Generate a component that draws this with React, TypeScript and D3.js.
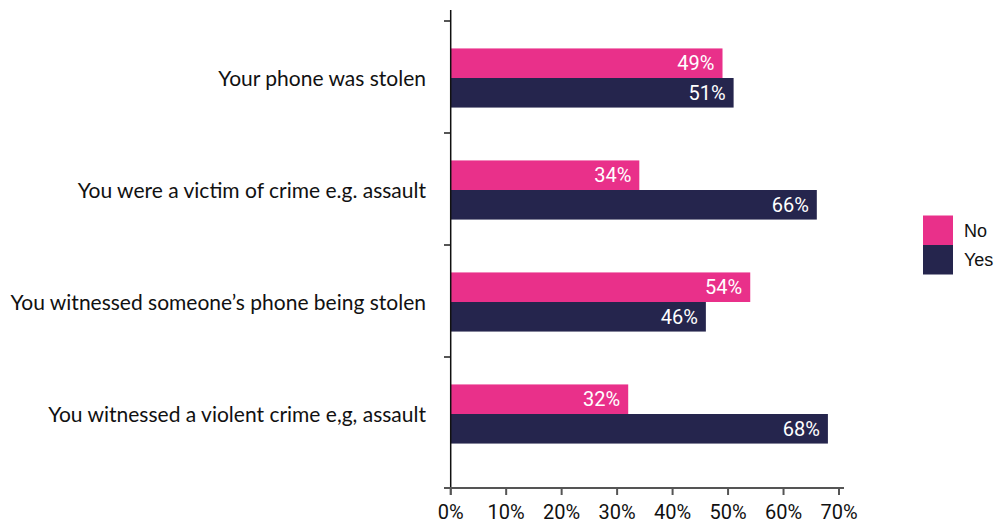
import React from "react";
import * as d3 from "d3";

const categories = [
  "Your phone was stolen",
  "You were a victim of crime e.g. assault",
  "You witnessed someone\u2019s phone being stolen",
  "You witnessed a violent crime e,g, assault",
];
const seriesNames = ["No", "Yes"];
const noValues = [49, 34, 54, 32];
const yesValues = [51, 66, 46, 68];
const xTicks = [0, 10, 20, 30, 40, 50, 60, 70];
const colors = ["#E9308A", "#25254D"];

const W = 995;
const H = 524;

export default function App() {
  const x = d3.scaleLinear().domain([0, 70]).range([450.7, 839]);
  const y = d3.scaleBand<string>().domain(categories).range([21, 469]);
  const barH = y.step() * 0.264;
  const series = [noValues, yesValues];
  const axisY = 488;
  const tickFont = "Roboto, 'Liberation Sans', sans-serif";
  const labelFont = "Lato, 'Noto Sans', sans-serif";
  const legendY = (y.range()[0] + y.range()[1]) / 2;

  return (
    <svg width={W} height={H} style={{ position: "absolute", left: 0, top: 0, background: "#fff" }}>
      {categories.map((c, i) => {
        const cy = (y(c) as number) + y.bandwidth() / 2 + 1;
        return (
          <g key={c}>
            {series.map((vals, s) => {
              const top = cy - barH + s * barH;
              return (
                <g key={s}>
                  <rect x={x(0)} y={top} width={x(vals[i]) - x(0)} height={barH} fill={colors[s]} />
                  <text
                    x={x(vals[i]) - 8}
                    y={top + barH / 2}
                    dy="0.36em"
                    textAnchor="end"
                    fill="#fff"
                    fontFamily={tickFont}
                    fontSize={20}
                  >
                    {vals[i]}%
                  </text>
                </g>
              );
            })}
            <text
              x={426}
              y={cy}
              dy="0.36em"
              textAnchor="end"
              fill="#111"
              fontFamily={labelFont}
              fontSize={21}
            >
              {c}
            </text>
          </g>
        );
      })}
      {categories.map((c) => (
        <line key={c} x1={444} x2={451} y1={y(c) as number} y2={y(c) as number} stroke="#555" strokeWidth={2} />
      ))}
      <line x1={450.7} x2={450.7} y1={10} y2={495} stroke="#111" strokeWidth={1.5} />
      <line x1={444} x2={844} y1={axisY} y2={axisY} stroke="#555" strokeWidth={2} />
      {xTicks.map((t) => (
        <g key={t}>
          <line x1={x(t)} x2={x(t)} y1={axisY} y2={axisY + 7} stroke="#555" strokeWidth={2} />
          <text x={x(t)} y={519} textAnchor="middle" fill="#111" fontFamily={tickFont} fontSize={20}>
            {t}%
          </text>
        </g>
      ))}
      {seriesNames.map((n, s) => (
        <g key={n}>
          <rect x={923} y={legendY - 29.5 + s * 29.5} width={30} height={29.5} fill={colors[s]} />
          <text
            x={964}
            y={legendY - 14.75 + s * 29.5}
            dy="0.36em"
            fill="#111"
            fontFamily="'Liberation Sans', Arial, sans-serif"
            fontSize={18}
          >
            {n}
          </text>
        </g>
      ))}
    </svg>
  );
}
